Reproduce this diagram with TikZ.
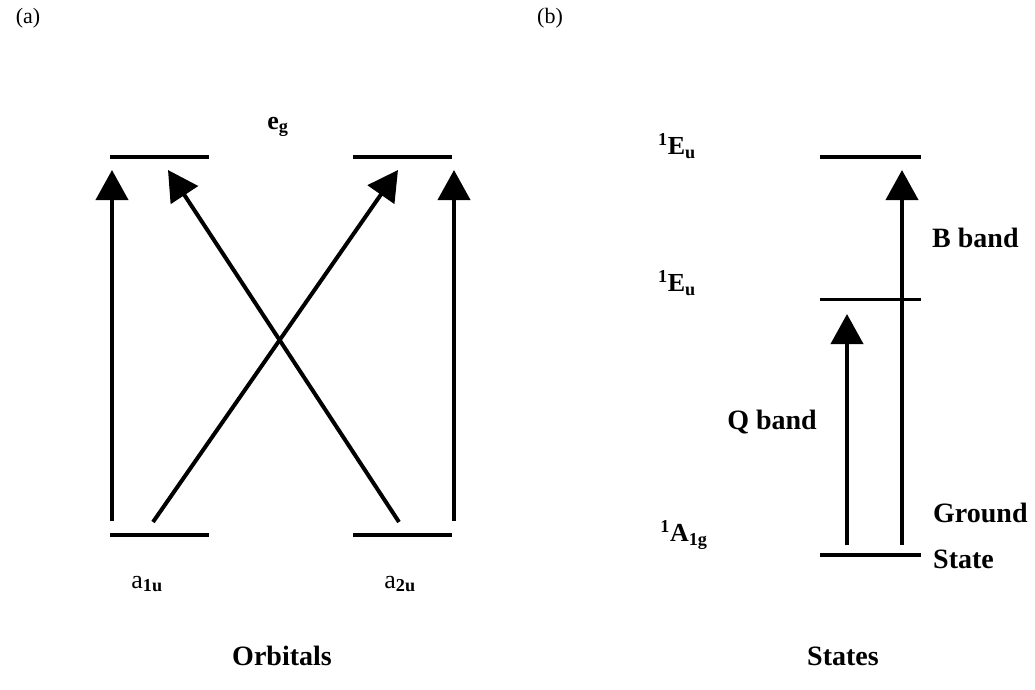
\documentclass[tikz,border=0pt]{standalone}
\usepackage{fontspec}
\setmainfont{Liberation Serif}
\usetikzlibrary{arrows.meta}
\begin{document}
\begin{tikzpicture}[x=1pt,y=-1pt,
  level/.style={line width=4pt},
  thinlevel/.style={line width=3pt},
  trans/.style={line width=4pt,-{Triangle[length=30pt,width=32pt]}},
  lbl/.style={font=\fontsize{26}{28}\selectfont\bfseries,inner sep=0pt},
  big/.style={font=\fontsize{28}{30}\selectfont\bfseries,inner sep=0pt},
  panel/.style={font=\fontsize{22}{24}\selectfont,inner sep=0pt}]
\useasboundingbox (0,0) rectangle (1035,689);
% panel labels
\node[panel] (pa) at (28,18) {(a)};
\node[panel] (pb) at (550,18) {(b)};
% ---- Orbitals ----
\coordinate (eg1L) at (110,157); \coordinate (eg1R) at (209,157);
\coordinate (eg2L) at (353,157); \coordinate (eg2R) at (452,157);
\coordinate (a1L) at (110,535); \coordinate (a1R) at (209,535);
\coordinate (a2L) at (353,535); \coordinate (a2R) at (452,535);
\draw[level] (eg1L) -- (eg1R);
\draw[level] (eg2L) -- (eg2R);
\draw[level] (a1L) -- (a1R);
\draw[level] (a2L) -- (a2R);
\coordinate (s1) at (112,521); \coordinate (t1) at (112,170);
\coordinate (s2) at (153,522); \coordinate (t2) at (398,170);
\coordinate (s3) at (399,522); \coordinate (t3) at (168,170);
\coordinate (s4) at (454,521); \coordinate (t4) at (454,170);
\draw[trans] (s1) -- (t1);
\draw[trans] (s2) -- (t2);
\draw[trans] (s3) -- (t3);
\draw[trans] (s4) -- (t4);
\node[lbl] (eg) at (278,127) {e\textsubscript{g}};
\node[lbl] (a1u) at (147,584) {\mdseries a\bfseries\textsubscript{1u}};
\node[lbl] (a2u) at (400,584) {\mdseries a\bfseries\textsubscript{2u}};
\node[big] (orb) at (282,656) {Orbitals};
% ---- States ----
\coordinate (EtL) at (820,157); \coordinate (EtR) at (921,157);
\coordinate (EmL) at (820,299); \coordinate (EmR) at (921,299);
\coordinate (AL) at (820,555); \coordinate (AR) at (921,555);
\draw[level] (EtL) -- (EtR);
\draw[thinlevel] (EmL) -- (EmR);
\draw[level] (AL) -- (AR);
\coordinate (qs) at (847,545); \coordinate (qt) at (847,314);
\coordinate (bs) at (902,545); \coordinate (bt) at (902,170);
\draw[trans] (qs) -- (qt);
\draw[trans] (bs) -- (bt);
\node[lbl] (Eu1) at (677,146) {\textsuperscript{1}E\textsubscript{u}};
\node[lbl] (Eu2) at (677,283) {\textsuperscript{1}E\textsubscript{u}};
\node[lbl] (A1g) at (684,535) {\textsuperscript{1}A\textsubscript{1g}};
\node[big,anchor=west] (bband) at (932,238) {B band};
\node[big] (qband) at (772,422) {Q band};
\node[big,anchor=west] (ground) at (933,513) {Ground};
\node[big,anchor=west] (state) at (933,559) {State};
\node[big] (st) at (843,656) {States};
\end{tikzpicture}
\end{document}
